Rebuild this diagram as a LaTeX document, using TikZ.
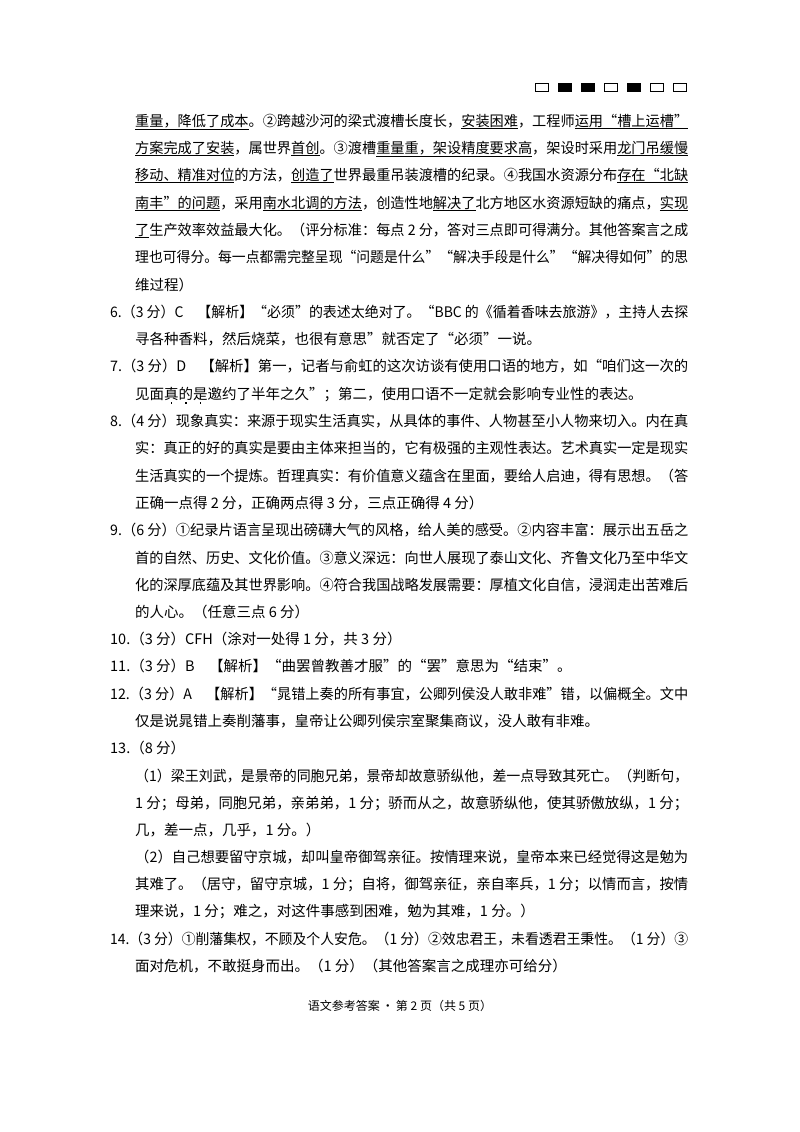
\documentclass[tikz,border=0pt]{standalone}
\usepackage{fontspec}
\usepackage{graphicx}
\setmainfont{Noto Sans CJK SC}
\newcommand\ul[1]{\underline{#1}}
\newsavebox\dtbox
\newcommand\dt[1]{\sbox\dtbox{#1}\rlap{\hbox to\wd\dtbox{\hfil\rule[-4.5pt]{1.6pt}{1.6pt}\hfil}}\usebox\dtbox}
\newcommand\fl[2]{\resizebox{#1pt}{\height}{#2}}
\begin{document}
\begin{tikzpicture}[x=1pt,y=-1pt,
  ln/.style={anchor=base west,inner sep=0pt,font=\fontsize{14.5}{17}\selectfont},
  hb/.style={draw=black,line width=0.6pt}]
\useasboundingbox (0,0) rectangle (800,1132);
\fill[white] (0,0) rectangle (800,1132);
\foreach \i/\f in {0/white,1/black,2/black,3/white,4/black,5/white,6/white}
  \draw[hb,fill=\f] (535+23*\i,83) rectangle ++(13,8);
\node[ln] (l1) at (135,126) {\fl{553}{\ul{重量，降低了成本}。②跨越沙河的梁式渡槽长度长，\ul{安装困难}，工程师\ul{运用“槽上运槽”}}};
\node[ln] (l2) at (135,153) {\fl{553}{\ul{方案完成了安装}，属世界\ul{首创}。③渡槽\ul{重量重，架设精度要求高}，架设时采用\ul{龙门吊缓慢}}};
\node[ln] (l3) at (135,180) {\fl{553}{\ul{移动、精准对位}的方法，\ul{创造了}世界最重吊装渡槽的纪录。④我国水资源分布\ul{存在“北缺}}};
\node[ln] (l4) at (135,208) {\fl{553}{\ul{南丰”的问题}，采用\ul{南水北调的方法}，创造性地\ul{解决了}北方地区水资源短缺的痛点，\ul{实现}}};
\node[ln] (l5) at (135,235) {\fl{553}{\ul{了}生产效率效益最大化。（评分标准：每点 2 分，答对三点即可得满分。其他答案言之成}};
\node[ln] (l6) at (135,262) {\fl{553}{理也可得分。每一点都需完整呈现“问题是什么”“解决手段是什么”“解决得如何”的思}};
\node[ln] (l7) at (135,290) {维过程）};
\node[ln] (q6a) at (110,317) {\fl{578}{6.（3 分）C\quad【解析】“必须”的表述太绝对了。“BBC 的《循着香味去旅游》，主持人去探}};
\node[ln] (q6b) at (135,344) {寻各种香料，然后烧菜，也很有意思”就否定了“必须”一说。};
\node[ln] (q7a) at (110,371) {\fl{578}{7.（3 分）D\quad【解析】第一，记者与俞虹的这次访谈有使用口语的地方，如“咱们这一次的}};
\node[ln] (q7b) at (135,399) {见面\dt{真}\dt{的}\dt{是}邀约了半年之久”；第二，使用口语不一定就会影响专业性的表达。};
\node[ln] (q8a) at (110,426) {\fl{578}{8.（4 分）现象真实：来源于现实生活真实，从具体的事件、人物甚至小人物来切入。内在真}};
\node[ln] (q8b) at (135,453) {\fl{553}{实：真正的好的真实是要由主体来担当的，它有极强的主观性表达。艺术真实一定是现实}};
\node[ln] (q8c) at (135,481) {\fl{553}{生活真实的一个提炼。哲理真实：有价值意义蕴含在里面，要给人启迪，得有思想。（答}};
\node[ln] (q8d) at (135,508) {正确一点得 2 分，正确两点得 3 分，三点正确得 4 分）};
\node[ln] (q9a) at (110,535) {\fl{578}{9.（6 分）①纪录片语言呈现出磅礴大气的风格，给人美的感受。②内容丰富：展示出五岳之}};
\node[ln] (q9b) at (135,563) {\fl{553}{首的自然、历史、文化价值。③意义深远：向世人展现了泰山文化、齐鲁文化乃至中华文}};
\node[ln] (q9c) at (135,590) {\fl{553}{化的深厚底蕴及其世界影响。④符合我国战略发展需要：厚植文化自信，浸润走出苦难后}};
\node[ln] (q9d) at (135,617) {的人心。（任意三点 6 分）};
\node[ln] (q10) at (110,644) {10.（3 分）CFH（涂对一处得 1 分，共 3 分）};
\node[ln] (q11) at (110,671) {11.（3 分）B\quad【解析】“曲罢曾教善才服”的“罢”意思为“结束”。};
\node[ln] (q12a) at (110,699) {\fl{578}{12.（3 分）A\quad【解析】“晁错上奏的所有事宜，公卿列侯没人敢非难”错，以偏概全。文中}};
\node[ln] (q12b) at (135,726) {仅是说晁错上奏削藩事，皇帝让公卿列侯宗室聚集商议，没人敢有非难。};
\node[ln] (q13) at (110,753) {13.（8 分）};
\node[ln] (q13a) at (135,781) {\fl{553}{（1）梁王刘武，是景帝的同胞兄弟，景帝却故意骄纵他，差一点导致其死亡。（判断句，}};
\node[ln] (q13b) at (135,808) {\fl{553}{1 分；母弟，同胞兄弟，亲弟弟，1 分；骄而从之，故意骄纵他，使其骄傲放纵，1 分；}};
\node[ln] (q13c) at (135,835) {几，差一点，几乎，1 分。）};
\node[ln] (q13d) at (135,862) {\fl{553}{（2）自己想要留守京城，却叫皇帝御驾亲征。按情理来说，皇帝本来已经觉得这是勉为}};
\node[ln] (q13e) at (135,889) {\fl{553}{其难了。（居守，留守京城，1 分；自将，御驾亲征，亲自率兵，1 分；以情而言，按情}};
\node[ln] (q13f) at (135,916) {理来说，1 分；难之，对这件事感到困难，勉为其难，1 分。）};
\node[ln] (q14a) at (110,944) {\fl{578}{14.（3 分）①削藩集权，不顾及个人安危。（1 分）②效忠君王，未看透君王秉性。（1 分）③}};
\node[ln] (q14b) at (135,971) {面对危机，不敢挺身而出。（1 分）（其他答案言之成理亦可给分）};
\node[anchor=base,inner sep=0pt,font=\fontsize{12}{14}\selectfont] (foot) at (400,1010) {语文参考答案\,•\,第 2 页（共 5 页）};
\end{tikzpicture}
\end{document}
